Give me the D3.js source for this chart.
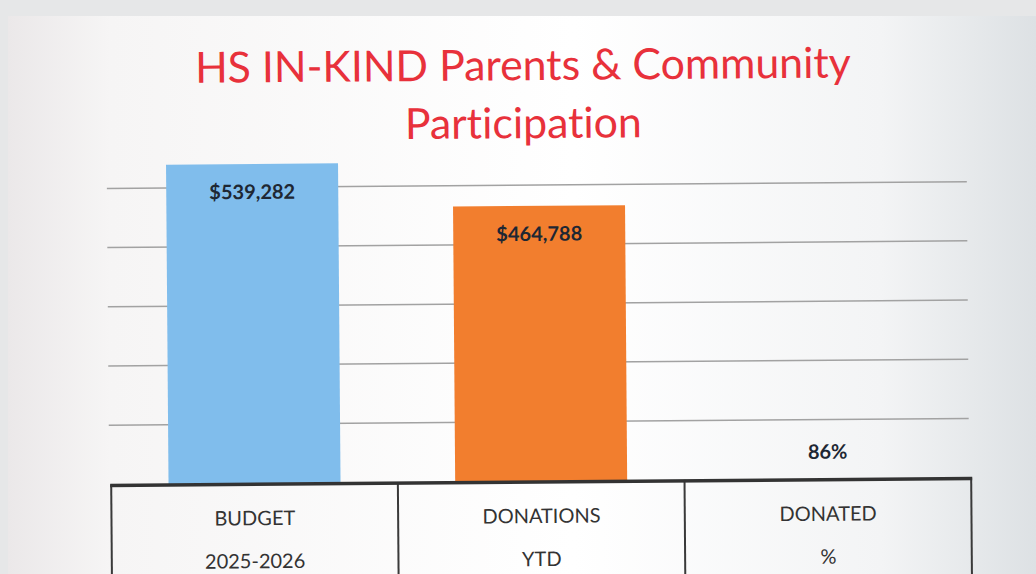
<!DOCTYPE html>
<html>
<head>
<meta charset="utf-8">
<script src="https://cdn.jsdelivr.net/npm/d3@7"></script>
<style>
  body { margin: 0; background: #e9e9e9; }
  svg { display: block; font-family: Lato, "Open Sans", sans-serif; font-variant-ligatures: none; }
</style>
</head>
<body>
<div id="chart"></div>
<script>
// chart data
const categories = ["BUDGET", "DONATIONS", "DONATED"];
const subLabels = ["2025-2026", "YTD", "%"];
const values = [539282, 464788, 0.86];
const valueLabels = ["$539,282", "$464,788", "86%"];
const gridValues = [100000, 200000, 300000, 400000, 500000];
const titleLines = ["HS IN-KIND Parents & Community", "Participation"];
const barColors = ["#80bdec", "#f27e2e", "#a5a5a5"];

let width = 1036;
let height = 574;
let left = 110, right = 970;
let base = 481;

let svg = d3.select("#chart").append("svg")
  .attr("width", width)
  .attr("height", height);

// paper background of the photo
let defs = svg.append("defs");
let grad = defs.append("linearGradient").attr("id", "paper")
  .attr("x1", "0%").attr("x2", "100%").attr("y1", "0%").attr("y2", "0%");
grad.append("stop").attr("offset", "0%").attr("stop-color", "#ebe8e9");
grad.append("stop").attr("offset", "10%").attr("stop-color", "#f6f5f5");
grad.append("stop").attr("offset", "55%").attr("stop-color", "#ffffff");
grad.append("stop").attr("offset", "85%").attr("stop-color", "#f3f4f5");
grad.append("stop").attr("offset", "100%").attr("stop-color", "#dde1e4");

svg.append("rect").attr("width", width).attr("height", height).attr("fill", "#e6e7e8");
svg.append("rect")
  .attr("x", 8).attr("y", 16)
  .attr("width", width - 8).attr("height", height - 16)
  .attr("fill", "url(#paper)");

let g = svg.append("g").attr("transform", "rotate(-0.45, 540, 330)");

let xScale = d3.scaleBand()
  .domain(categories)
  .range([left, right])
  .paddingInner(0.4)
  .paddingOuter(0.2);

let yScale = d3.scaleLinear()
  .domain([0, 600000])
  .range([base, base - 355.2]);

// gridlines
g.selectAll("line.grid")
  .data(gridValues)
  .enter()
  .append("line")
  .attr("class", "grid")
  .attr("x1", left - 2)
  .attr("x2", right - 2)
  .attr("y1", d => yScale(d))
  .attr("y2", d => yScale(d))
  .style("stroke", "#a2a2a2")
  .style("stroke-width", 1.5);

// bars
g.selectAll("rect.bar")
  .data(values)
  .enter()
  .append("rect")
  .attr("class", "bar")
  .attr("x", (d, i) => xScale(categories[i]))
  .attr("y", d => yScale(d))
  .attr("width", xScale.bandwidth())
  .attr("height", d => yScale(0) - yScale(d))
  .style("fill", (d, i) => barColors[i]);

// value labels
g.selectAll("text.val")
  .data(values)
  .enter()
  .append("text")
  .attr("class", "val")
  .attr("x", (d, i) => xScale(categories[i]) + xScale.bandwidth() / 2)
  .attr("y", (d, i) => i == 2 ? yScale(d) - 20 : yScale(d) + 35)
  .attr("text-anchor", "middle")
  .style("font-size", "20px")
  .style("font-weight", "bold")
  .style("fill", "#1e2733")
  .text((d, i) => valueLabels[i]);

// table below the plot
let step = xScale.step();
let cellEdges = [left, left + step, left + 2 * step, right];
g.selectAll("line.cell")
  .data(cellEdges)
  .enter()
  .append("line")
  .attr("class", "cell")
  .attr("x1", d => d).attr("x2", d => d)
  .attr("y1", base).attr("y2", height + 10)
  .style("stroke", "#3a3a3a")
  .style("stroke-width", 2);

g.append("line")
  .attr("x1", left - 1).attr("x2", right + 1)
  .attr("y1", base + 1).attr("y2", base + 1)
  .style("stroke", "#333")
  .style("stroke-width", 3.5);

g.selectAll("text.cat")
  .data(categories)
  .enter()
  .append("text")
  .attr("class", "cat")
  .attr("x", d => xScale(d) + xScale.bandwidth() / 2)
  .attr("y", 523)
  .attr("text-anchor", "middle")
  .style("font-size", "20px")
  .style("fill", "#333")
  .text(d => d);

g.selectAll("text.sub")
  .data(subLabels)
  .enter()
  .append("text")
  .attr("class", "sub")
  .attr("x", (d, i) => xScale(categories[i]) + xScale.bandwidth() / 2)
  .attr("y", 566)
  .attr("text-anchor", "middle")
  .style("font-size", "20px")
  .style("fill", "#333")
  .text(d => d);

// title
let title = g.selectAll("text.title")
  .data(titleLines)
  .enter()
  .append("text")
  .attr("class", "title")
  .attr("x", 525)
  .attr("y", (d, i) => 80 + i * 58)
  .attr("text-anchor", "middle")
  .style("font-size", "40px")
  .style("fill", "#e8313b")
  .text(d => d);

// fit the first title line to the width seen in the picture
let w0 = title.node().getComputedTextLength();
title.style("font-size", (40 * 656 / w0) + "px");
</script>
</body>
</html>
